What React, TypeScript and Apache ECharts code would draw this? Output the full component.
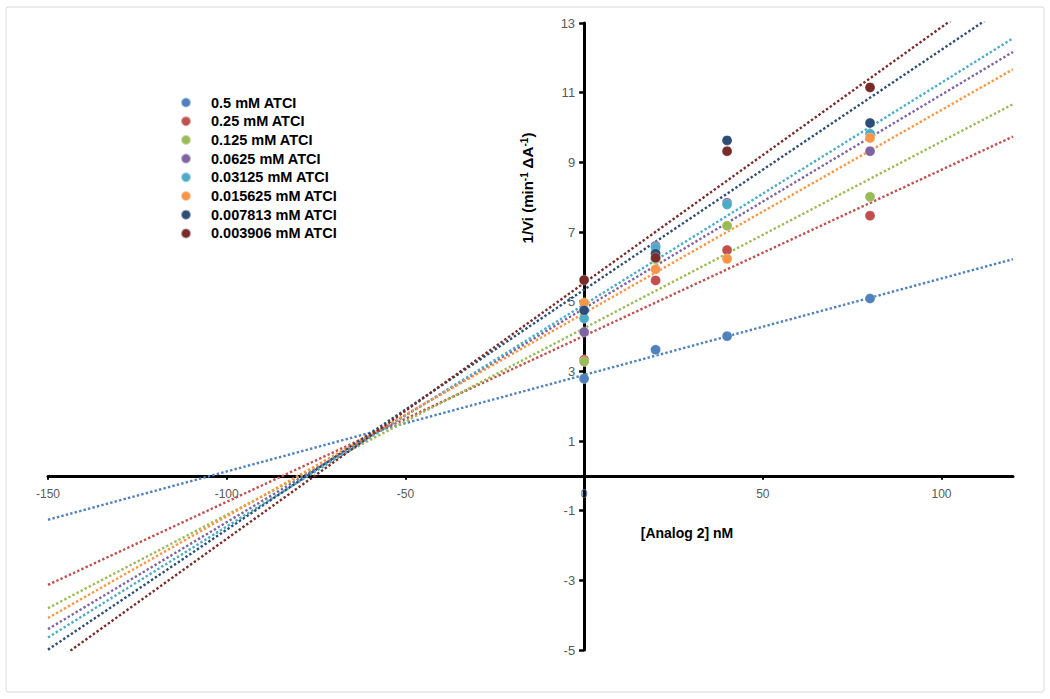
import React, { useEffect, useRef } from "react";
import * as echarts from "echarts";

// ---------- data ----------
const xConcentrations = [0, 20, 40, 80];
const seriesNames = [
  "0.5 mM ATCI",
  "0.25 mM ATCI",
  "0.125 mM ATCI",
  "0.0625 mM ATCI",
  "0.03125 mM ATCI",
  "0.015625 mM ATCI",
  "0.007813 mM ATCI",
  "0.003906 mM ATCI",
];
const values_0_5 = [2.79, 3.62, 4.01, 5.09];
const values_0_25 = [3.33, 5.61, 6.48, 7.47];
const values_0_125 = [3.28, 6.22, 7.18, 8.01];
const values_0_0625 = [4.13, 6.6, 7.84, 9.32];
const values_0_03125 = [4.52, 6.55, 7.79, 9.82];
const values_0_015625 = [4.97, 5.93, 6.23, 9.7];
const values_0_007813 = [4.75, 6.38, 9.63, 10.13];
const values_0_003906 = [5.62, 6.26, 9.32, 11.15];

// trend lines: value at x = trendX[0] and x = trendX[1]
const trendX = [-150, 120];
const trend_0_5 = [-1.26, 6.22];
const trend_0_25 = [-3.13, 9.74];
const trend_0_125 = [-3.8, 10.67];
const trend_0_0625 = [-4.4, 12.17];
const trend_0_03125 = [-4.64, 12.56];
const trend_0_015625 = [-4.08, 11.67];
const trend_0_007813 = [-4.99, 13.61];
const trend_0_003906 = [-5.48, 14.35];

const xTickLabels = [-150, -100, -50, 0, 50, 100];
const yTickLabels = [-5, -3, -1, 1, 3, 5, 7, 9, 11, 13];

const colors = [
  "#4F81BD",
  "#C0504D",
  "#9BBB59",
  "#8064A2",
  "#4BACC6",
  "#F79646",
  "#2C4D75",
  "#772C2A",
];

const allValues = [
  values_0_5,
  values_0_25,
  values_0_125,
  values_0_0625,
  values_0_03125,
  values_0_015625,
  values_0_007813,
  values_0_003906,
];
const allTrends = [
  trend_0_5,
  trend_0_25,
  trend_0_125,
  trend_0_0625,
  trend_0_03125,
  trend_0_015625,
  trend_0_007813,
  trend_0_003906,
];

const FONT = "'Liberation Sans', Arial, sans-serif";

// layout
const W = 1050;
const H = 699;
const GRID_L = 48;
const GRID_R = 37;
const GRID_T = 23;
const GRID_B = 49;
const X_MIN = -150;
const X_MAX = 120;
const Y_MIN = -5;
const Y_MAX = 13;

export default function App() {
  const ref = useRef<HTMLDivElement>(null);

  useEffect(() => {
    if (!ref.current) return;
    const chart = echarts.init(ref.current, undefined, { renderer: "svg" });

    const gridW = W - GRID_L - GRID_R;
    const gridH = H - GRID_T - GRID_B;
    // axis offsets so that the axes cross at the origin
    const xZeroFromLeft = ((0 - X_MIN) / (X_MAX - X_MIN)) * gridW;
    const yZeroFromBottom = ((0 - Y_MIN) / (Y_MAX - Y_MIN)) * gridH;

    const trendSeries = allTrends.map((t, i) => ({
      name: "trend " + seriesNames[i],
      type: "line",
      data: trendX.map((x, k) => [x, t[k]]),
      showSymbol: false,
      symbol: "none",
      clip: true,
      silent: true,
      z: 2,
      lineStyle: {
        color: colors[i],
        width: 2.4,
        type: [2.4, 2.2],
        cap: "butt",
      },
    }));

    const scatterSeries = allValues.map((vals, i) => ({
      name: seriesNames[i],
      type: "scatter",
      data: xConcentrations.map((x, k) => [x, vals[k]]),
      symbol: "circle",
      symbolSize: 10,
      z: 3,
      itemStyle: {
        color: colors[i],
        borderColor: "rgba(255,255,255,0.5)",
        borderWidth: 0.6,
        opacity: 1,
      },
    }));

    chart.setOption({
      animation: false,
      backgroundColor: "#ffffff",
      textStyle: { fontFamily: FONT },
      grid: {
        left: GRID_L,
        right: GRID_R,
        top: GRID_T,
        bottom: GRID_B,
        containLabel: false,
      },
      legend: {
        orient: "vertical",
        left: 175,
        top: 90,
        data: seriesNames,
        icon: "circle",
        itemWidth: 40,
        itemHeight: 10,
        itemGap: 3.7,
        textStyle: {
          fontFamily: FONT,
          fontWeight: "bold",
          fontSize: 14.5,
          color: "#000",
          lineHeight: 15,
        },
      },
      xAxis: {
        type: "value",
        min: X_MIN,
        max: X_MAX,
        interval: 50,
        position: "bottom",
        offset: -yZeroFromBottom,
        axisLine: {
          onZero: false,
          lineStyle: { color: "#000", width: 3 },
        },
        axisTick: {
          show: true,
          length: 4,
          lineStyle: { color: "#000", width: 2 },
          customValues: xTickLabels,
        },
        axisLabel: {
          customValues: xTickLabels,
          color: "#595959",
          fontSize: 12,
          margin: 12,
          fontFamily: FONT,
        },
        splitLine: { show: false },
      },
      yAxis: {
        type: "value",
        min: Y_MIN,
        max: Y_MAX,
        position: "left",
        offset: -xZeroFromLeft,
        axisLine: {
          onZero: false,
          lineStyle: { color: "#000", width: 3 },
        },
        axisTick: {
          show: true,
          length: 5,
          lineStyle: { color: "#000", width: 2.5 },
          customValues: yTickLabels,
        },
        axisLabel: {
          customValues: yTickLabels,
          color: "#595959",
          fontSize: 13,
          margin: 9,
          fontFamily: FONT,
        },
        splitLine: { show: false },
      },
      graphic: [
        {
          type: "rect",
          shape: { x: 6, y: 7, width: 1038, height: 685, r: 2 },
          style: { fill: "none", stroke: "#d9d9d9", lineWidth: 1 },
          silent: true,
          z: -10,
        },
        {
          type: "text",
          x: 687,
          y: 533,
          style: {
            text: "[Analog 2] nM",
            fontFamily: FONT,
            fontWeight: "bold",
            fontSize: 14,
            fill: "#000",
            align: "center",
            verticalAlign: "middle",
          },
        },
        {
          type: "text",
          x: 527,
          y: 188,
          rotation: Math.PI / 2,
          style: {
            text: "1/Vi (min{sup|-1} ΔA{sup|-1})",
            fontFamily: FONT,
            fontWeight: "bold",
            fontSize: 15,
            fill: "#000",
            align: "center",
            verticalAlign: "middle",
            rich: {
              sup: {
                fontFamily: FONT,
                fontWeight: "bold",
                fontSize: 10,
                fill: "#000",
                verticalAlign: "top",
                padding: [0, 0, 6, 0],
              },
            },
          },
        },
      ],
      series: [...trendSeries, ...scatterSeries],
    });

    return () => chart.dispose();
  }, []);

  return (
    <div
      ref={ref}
      style={{
        position: "fixed",
        left: 0,
        top: 0,
        width: W,
        height: H,
        background: "#fff",
      }}
    />
  );
}
